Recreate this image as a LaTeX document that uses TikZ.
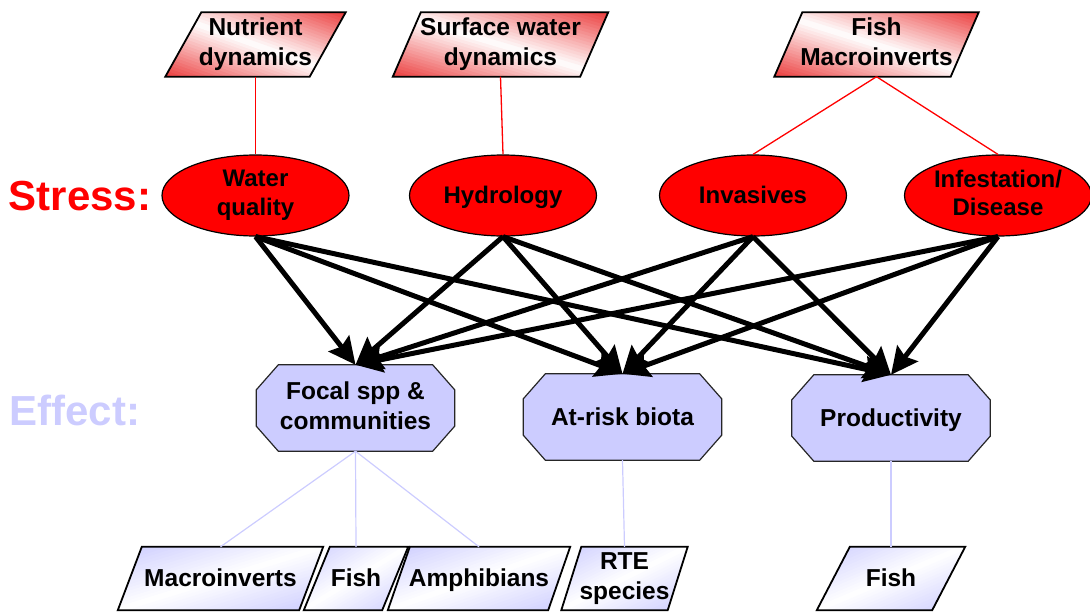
\documentclass[tikz,border=0pt]{standalone}
\usepackage{fontspec}
\setmainfont{Liberation Sans}
\usetikzlibrary{arrows.meta,backgrounds,shapes.geometric}

\definecolor{lav}{RGB}{204,204,255}
\definecolor{rosered}{RGB}{236,62,62}

% full ascent/descent strut, so text is centred on its line boxes
\newcommand\linestrut{\rule[-0.212em]{0pt}{1.117em}}

% slanted box behind a text node, filled with a corner-to-corner gradient
% built from diagonal bands, white in the middle band
% #1 node, #2 slant, #3 width, #4 height, #5 corner colour,
% #6 corner the bands start from, #7 sign of the vertical direction
\newcommand\slantoutline[7]{%
  \begin{scope}
    \clip ([xshift=#2pt]#1.north west) -- (#1.north east)
      -- ([xshift=-#2pt]#1.south east) -- (#1.south west) -- cycle;
    \begin{scope}[shift={(#1.#6)}, x=#3pt, y=#7#4pt]
      \foreach \k in {0,...,39}{
        \pgfmathsetmacro\pct{abs((\k+0.5)/20-1)*100}
        \fill[#5!\pct!white] ({\k/20+1},-1) -- ({(\k+1)/20+1.012},-1)
          -- ({(\k+1)/20-1.988},2) -- ({\k/20-2},2) -- cycle;
      }
    \end{scope}
  \end{scope}
  \draw[boxline] ([xshift=#2pt]#1.north west) -- (#1.north east)
    -- ([xshift=-#2pt]#1.south east) -- (#1.south west) -- cycle;}
% chamfered outline behind a text node
\newcommand\octoutline[1]{%
  \path[octfill] ([xshift=22pt]#1.north west) -- ([xshift=-22pt]#1.north east)
    -- ([yshift=-25pt]#1.north east) -- ([yshift=25pt]#1.south east)
    -- ([xshift=-22pt]#1.south east) -- ([xshift=22pt]#1.south west)
    -- ([yshift=25pt]#1.south west) -- ([yshift=-25pt]#1.north west) -- cycle;}

\tikzset{
  lbl/.style={font=\fontsize{24.5}{30}\selectfont\bfseries, align=center, inner sep=0pt,
    execute at begin node=\linestrut, execute at end node=\linestrut},
  topbox/.style={lbl, minimum height=64pt},
  lowbox/.style={lbl, minimum height=63pt},
  boxline/.style={draw=black, line width=1.8pt, line join=miter},
  stressnode/.style={lbl, ellipse, fill=red, draw=black, line width=1.2pt,
    minimum width=187pt, minimum height=81pt, font=\fontsize{24}{28.5}\selectfont\bfseries},
  effectnode/.style={lbl, minimum width=198pt, minimum height=86pt},
  octfill/.style={fill=lav, draw=black!85, line width=1.2pt},
  redline/.style={red, line width=1.3pt},
  lavline/.style={lav, line width=1.2pt},
  bigarrow/.style={line width=5pt, -{Stealth[length=27pt,width=26pt,inset=4pt]}},
  rowlabel/.style={font=\fontsize{42}{48}\selectfont\bfseries, inner sep=0pt},
}

\begin{document}
\begin{tikzpicture}[x=1pt, y=-1pt]
\useasboundingbox (0,0) rectangle (1090,611);

% row labels
\node[rowlabel, text=red] (stresslbl) at (80,196) {Stress:};
\node[rowlabel, text=lav] (effectlbl) at (75,410) {Effect:};

% measurement boxes above the stresses
\node[topbox, minimum width=180pt] (nut)   at (255.5,44.5) {Nutrient\\dynamics};
\node[topbox, minimum width=215pt] (surf)  at (500.5,44.5) {Surface water\\dynamics};
\node[topbox, minimum width=204pt] (fishm) at (876.5,44.5) {Fish\\Macroinverts};

% stresses
\node[stressnode] (wq)  at (255.5,195.5) {Water\\quality};
\node[stressnode] (hyd) at (503,195.5) {Hydrology};
\node[stressnode] (inv) at (753,195.5) {Invasives};
\node[stressnode] (inf) at (998,195.5) {Infestation/\\Disease};

% effects
\node[effectnode] (focal) at (355.5,408) {Focal spp \&\\communities};
\node[effectnode] (risk)  at (622.5,417) {At-risk biota};
\node[effectnode] (prod)  at (891,418) {Productivity};

% indicator boxes below the effects
\node[lowbox, minimum width=205pt] (macro) at (220.5,578.5) {Macroinverts};
\node[lowbox, minimum width=104pt] (fisha) at (356,578.5) {Fish};
\node[lowbox, minimum width=182pt] (amph)  at (479,578.5) {Amphibians};
\node[lowbox, minimum width=126pt] (rte)   at (624.5,578.5) {RTE\\species};
\node[lowbox, minimum width=148pt] (fishb) at (891,578.5) {Fish};

\begin{scope}[on background layer]
  \slantoutline{nut}{36}{180}{64}{rosered}{south west}{}
  \slantoutline{surf}{28}{215}{64}{rosered}{south west}{}
  \slantoutline{fishm}{28}{204}{64}{rosered}{south west}{}
  \slantoutline{macro}{24}{205}{63}{lav}{north west}{-}
  \slantoutline{fisha}{26}{104}{63}{lav}{north west}{-}
  \slantoutline{amph}{22}{182}{63}{lav}{north west}{-}
  \slantoutline{rte}{20}{126}{63}{lav}{north west}{-}
  \slantoutline{fishb}{33}{148}{63}{lav}{north west}{-}
  \octoutline{focal}
  \octoutline{risk}
  \octoutline{prod}
\end{scope}

% thin links
\draw[redline] (nut.south) -- (wq.north);
\draw[redline] (surf.south) -- (hyd.north);
\draw[redline] (fishm.south) -- (inv.north);
\draw[redline] (fishm.south) -- (inf.north);

\draw[lavline] (focal.south) -- (macro.north);
\draw[lavline] (focal.south) -- (fisha.north);
\draw[lavline] (focal.south) -- (amph.north);
\draw[lavline] (risk.south) -- (rte.north);
\draw[lavline] (prod.south) -- (fishb.north);

% stress -> effect arrows
\foreach \s in {wq,hyd,inv,inf}{
  \foreach \e in {focal,risk,prod}{
    \draw[bigarrow] (\s.south) -- (\e.north);
  }
}
\end{tikzpicture}
\end{document}
